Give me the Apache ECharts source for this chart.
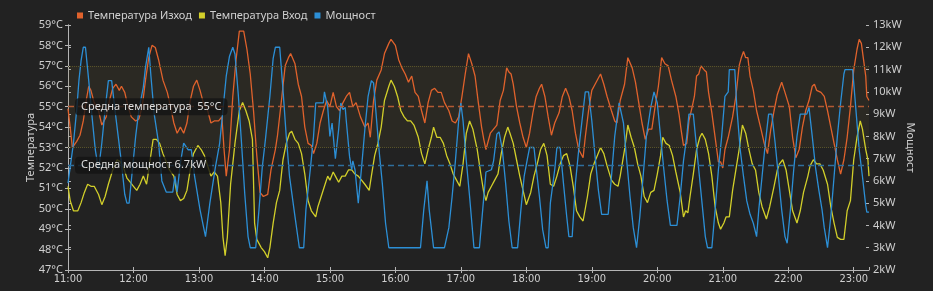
<!DOCTYPE html>
<html><head><meta charset="utf-8">
<script src="https://cdn.jsdelivr.net/npm/echarts@6/dist/echarts.min.js"></script>
<style>html,body{margin:0;padding:0;background:#222;}#c{width:933px;height:291px;}</style>
</head><body><div id="c"></div>
<script>
// x positions are minutes after 11:00
const tickLabels = ['11:00','12:00','13:00','14:00','15:00','16:00','17:00','18:00','19:00','20:00','21:00','22:00','23:00'];
const seriesNames = ['Температура Изход','Температура Вход','Мощност'];
const avgTemp = 55;
const avgPower = 6.7;
const bandLow = 53, bandHigh = 57;

const outlet = [[0,54.9],[2,54.0],[4,53.0],[8,53.3],[11,53.6],[14,54.3],[17,55.4],[19,56.0],[21,55.8],[24,55.2],[28,54.8],[31,54.1],[35,54.5],[38,55.3],[41,55.9],[44,56.1],[47,55.8],[49,56.0],[52,55.7],[55,55.0],[58,54.5],[62,54.3],[65,54.4],[68,55.0],[71,56.3],[74,57.4],[77,58.0],[80,57.9],[83,57.3],[87,56.3],[91,55.7],[94,55.0],[97,54.2],[100,53.7],[103,54.0],[106,53.7],[109,54.2],[112,55.3],[115,56.0],[118,56.3],[121,55.8],[124,55.2],[128,54.8],[131,54.2],[134,54.3],[138,54.3],[141,54.5],[143,52.9],[145,51.6],[148,52.9],[151,55.5],[154,57.3],[157,58.7],[161,58.7],[164,57.8],[167,56.6],[170,54.8],[173,52.6],[176,50.8],[179,50.6],[183,50.7],[186,51.9],[190,52.9],[192,53.6],[196,55.5],[199,57.0],[202,57.4],[204,57.6],[208,57.1],[211,56.1],[214,55.5],[217,54.0],[220,53.2],[223,53.1],[225,52.7],[228,53.2],[231,54.2],[234,54.8],[237,55.3],[240,55.0],[243,55.7],[246,55.0],[249,54.8],[252,55.2],[255,55.5],[258,55.7],[261,55.0],[264,55.2],[268,54.5],[272,54.0],[275,54.2],[277,53.5],[280,55.3],[283,56.3],[287,56.8],[290,57.6],[294,58.1],[296,58.3],[300,58.0],[303,57.3],[306,56.9],[309,56.6],[312,56.2],[315,56.5],[318,55.7],[321,55.5],[324,54.8],[327,54.2],[330,55.2],[333,55.8],[336,55.9],[339,55.7],[342,55.7],[345,55.2],[349,54.8],[352,54.3],[355,54.2],[358,54.5],[361,55.5],[364,56.6],[367,57.6],[370,57.1],[373,56.5],[376,55.2],[379,54.0],[381,53.4],[383,52.9],[387,53.7],[390,53.9],[393,54.1],[396,55.3],[399,55.8],[402,56.9],[404,56.7],[406,56.6],[408,56.1],[411,55.0],[414,54.2],[417,53.5],[420,53.0],[423,53.7],[426,54.7],[429,55.5],[432,55.9],[434,56.1],[437,55.5],[440,54.5],[443,53.6],[446,54.2],[450,54.7],[453,55.5],[456,55.9],[459,55.5],[462,54.8],[465,53.7],[468,52.9],[472,52.5],[474,53.5],[477,54.8],[480,55.8],[483,56.1],[488,56.6],[491,56.1],[494,55.5],[498,54.8],[501,54.3],[503,54.2],[506,55.3],[510,56.1],[513,57.4],[517,56.9],[520,56.2],[523,55.2],[526,54.2],[529,53.4],[532,53.9],[535,53.9],[538,55.0],[541,56.0],[544,57.4],[547,57.1],[550,57.0],[553,56.3],[557,55.5],[560,54.6],[562,53.8],[564,53.1],[567,53.2],[569,54.3],[572,55.0],[574,55.5],[576,56.5],[578,56.6],[580,57.0],[583,56.8],[585,56.7],[587,55.7],[590,54.7],[593,53.5],[596,52.3],[598,52.3],[600,52.0],[602,52.9],[605,53.5],[609,54.5],[612,55.5],[615,57.0],[617,57.4],[619,57.7],[621,57.4],[623,57.4],[625,56.5],[628,55.8],[631,54.8],[635,53.9],[638,53.2],[641,52.7],[644,53.9],[647,54.8],[650,55.6],[652,55.9],[654,56.2],[657,55.7],[661,55.0],[664,53.5],[667,52.5],[670,52.9],[673,54.0],[676,54.8],[679,55.3],[682,56.0],[684,56.1],[686,55.8],[690,55.7],[693,55.5],[696,54.8],[699,54.0],[702,53.2],[705,52.4],[708,51.7],[711,52.4],[714,53.5],[717,55.0],[720,56.8],[723,57.8],[725,58.3],[727,58.1],[729,57.3],[731,56.5],[732,55.5],[734,55.3]];

const inlet = [[0,51.1],[2,50.4],[5,49.9],[9,49.9],[12,50.3],[15,50.8],[18,51.2],[21,51.1],[24,51.1],[28,50.7],[31,50.2],[34,50.6],[37,51.2],[41,51.9],[45,52.4],[48,52.3],[51,52.0],[54,51.5],[57,51.3],[60,51.1],[63,50.9],[66,51.2],[69,51.6],[72,51.2],[75,52.3],[78,53.4],[81,53.4],[84,53.2],[87,52.7],[90,52.3],[93,51.9],[97,51.6],[100,50.7],[103,50.4],[106,50.5],[109,50.9],[112,51.9],[115,52.7],[119,53.1],[122,52.9],[125,52.6],[128,52.1],[131,51.6],[134,51.8],[137,51.6],[140,50.3],[142,48.6],[144,47.7],[146,48.6],[149,51.2],[153,53.2],[157,54.8],[160,55.2],[163,54.8],[166,54.3],[169,53.4],[171,49.3],[173,48.5],[177,48.1],[180,47.9],[183,47.6],[185,48.1],[188,49.3],[191,50.3],[194,50.9],[197,52.4],[200,53.2],[203,53.7],[205,53.8],[208,53.4],[211,53.2],[214,52.7],[217,51.7],[220,50.4],[223,49.9],[227,49.6],[229,50.1],[232,50.6],[235,51.1],[238,51.6],[240,51.4],[243,51.8],[245,51.6],[248,51.3],[251,51.6],[254,51.6],[257,51.9],[260,51.9],[263,51.7],[266,51.6],[269,51.4],[272,51.2],[276,50.9],[278,51.6],[281,52.6],[284,53.2],[287,54.0],[290,55.3],[294,56.0],[296,56.3],[299,56.0],[302,55.5],[305,54.8],[308,54.5],[311,54.3],[314,54.3],[317,54.1],[321,53.5],[324,52.7],[327,52.2],[330,52.9],[333,53.5],[335,54.0],[338,53.5],[341,53.5],[344,53.2],[347,52.6],[350,52.2],[353,51.7],[356,51.4],[359,51.1],[362,52.2],[365,53.7],[368,54.3],[371,53.9],[375,52.9],[378,51.8],[381,50.8],[383,50.4],[385,50.8],[388,51.1],[391,51.4],[394,51.7],[397,52.7],[400,53.5],[403,54.0],[405,53.7],[408,53.2],[411,52.4],[414,51.6],[417,50.9],[420,50.2],[424,50.8],[427,51.6],[430,52.2],[433,52.9],[436,53.2],[439,52.6],[442,51.2],[445,51.1],[448,51.6],[451,52.2],[454,52.6],[457,52.7],[460,52.1],[463,51.1],[466,49.9],[469,49.6],[472,49.4],[476,50.6],[479,51.7],[482,52.2],[485,52.6],[488,53.0],[491,52.7],[494,52.1],[498,51.4],[501,51.2],[504,51.1],[506,51.6],[510,52.9],[513,54.1],[516,53.5],[519,53.0],[522,52.2],[525,51.6],[528,50.6],[531,50.3],[534,50.8],[537,50.9],[540,51.7],[543,52.6],[545,53.5],[548,53.2],[551,53.1],[554,52.6],[557,51.8],[561,50.8],[564,49.6],[566,49.9],[568,49.8],[570,50.6],[573,51.7],[576,52.9],[579,53.5],[581,53.7],[584,53.4],[587,52.7],[590,51.6],[593,50.1],[596,49.3],[598,49.0],[601,49.3],[603,49.6],[606,49.6],[609,50.9],[612,51.9],[615,52.9],[618,54.1],[621,53.7],[624,52.9],[627,52.2],[630,51.9],[633,50.8],[636,50.1],[640,49.5],[643,50.1],[647,51.1],[650,51.9],[652,52.2],[655,52.4],[658,51.9],[661,50.9],[664,49.9],[668,49.3],[671,49.9],[674,50.8],[678,51.6],[680,52.1],[683,52.4],[686,52.2],[689,52.2],[692,51.9],[696,51.2],[699,50.1],[702,49.3],[705,48.6],[708,48.5],[711,48.5],[714,49.9],[717,50.4],[720,52.4],[723,53.5],[726,54.3],[728,53.9],[731,52.9],[733,52.4],[734,51.6]];

const power = [[0,5.9],[5,7.7],[8,9.2],[10,10.5],[12,11.4],[14,12.0],[16,12.0],[19,10.5],[22,8.9],[25,7.4],[28,6.5],[31,7.7],[34,9.2],[37,10.5],[40,10.5],[43,9.2],[46,8.0],[49,6.8],[52,5.4],[54,5.0],[56,5.0],[59,6.5],[62,8.0],[65,9.2],[69,10.2],[71,11.1],[74,12.0],[76,10.7],[79,9.0],[83,7.7],[86,6.0],[90,5.5],[96,5.5],[98,6.2],[100,5.5],[103,6.8],[106,7.7],[110,7.4],[113,7.4],[116,6.2],[121,4.7],[126,3.5],[130,5.0],[135,6.6],[139,7.7],[142,9.2],[145,10.7],[148,11.6],[151,12.0],[153,11.7],[156,9.9],[159,7.7],[162,5.4],[165,3.5],[167,3.0],[172,3.0],[175,4.7],[178,6.6],[181,7.9],[185,9.8],[188,11.5],[190,12.0],[194,12.0],[197,10.1],[200,8.0],[203,6.2],[208,4.4],[212,3.0],[216,3.0],[218,4.7],[222,6.5],[225,8.0],[227,9.5],[234,9.5],[235,10.0],[238,9.3],[240,8.0],[242,8.6],[245,7.0],[248,8.3],[250,9.5],[252,9.2],[254,9.3],[255,8.7],[258,7.1],[260,6.5],[261,6.9],[263,6.5],[266,5.0],[269,6.6],[272,8.3],[275,9.8],[278,10.5],[280,10.4],[282,9.2],[285,7.4],[288,5.9],[291,4.1],[294,3.0],[323,3.0],[326,4.7],[329,6.0],[331,4.7],[335,3.0],[345,3.0],[349,3.9],[352,5.3],[355,6.9],[358,8.7],[360,9.5],[362,8.7],[365,6.9],[368,5.3],[372,3.0],[377,3.0],[380,4.7],[383,6.4],[388,6.5],[390,6.9],[393,8.1],[395,8.2],[398,7.4],[401,5.9],[404,4.2],[407,3.0],[412,3.0],[415,4.7],[418,6.2],[421,7.0],[423,7.5],[427,7.5],[429,6.6],[432,5.3],[435,3.8],[438,3.0],[440,3.0],[442,5.0],[446,6.5],[448,7.5],[451,7.5],[454,5.9],[457,4.4],[459,3.5],[462,3.5],[465,5.9],[468,7.4],[471,8.7],[474,10.0],[477,10.0],[480,8.7],[483,7.1],[486,5.6],[489,4.5],[495,4.5],[498,6.2],[501,8.0],[505,9.5],[509,8.6],[512,6.9],[515,5.3],[518,3.9],[521,3.0],[524,4.4],[527,6.2],[530,8.0],[534,9.3],[537,10.0],[540,9.5],[543,8.0],[546,6.5],[549,5.1],[552,4.0],[558,4.0],[561,5.3],[564,6.9],[567,8.0],[569,9.0],[573,9.0],[575,8.0],[578,6.5],[581,5.0],[584,3.5],[586,3.0],[590,3.0],[593,4.7],[596,6.5],[599,8.0],[602,9.8],[605,10.0],[606,11.0],[611,11.0],[613,9.2],[616,7.4],[619,6.2],[622,5.1],[625,4.5],[628,4.1],[631,3.5],[633,4.7],[636,6.2],[639,7.7],[642,9.0],[645,9.0],[648,7.7],[651,6.2],[654,4.7],[657,3.5],[659,3.2],[662,4.7],[665,6.5],[668,8.0],[671,9.0],[677,9.0],[679,9.3],[682,8.0],[685,6.6],[688,5.6],[691,4.7],[693,3.9],[696,3.0],[699,4.4],[702,6.2],[705,8.0],[708,9.5],[711,10.8],[712,11.0],[719,11.0],[722,9.2],[725,7.4],[728,6.2],[731,4.9],[732,4.6],[734,4.6]];

const C_OUT = '#e0622c', C_IN = '#d2cf2a', C_POW = '#2c8fd6';
const txt = '#cfcfcf', axisCol = '#b5b5b5';
const font = '"Noto Sans", sans-serif';

const labelBox = {
  show: true, position: 'insideStart', distance: 7,
  color: '#dddddd', fontSize: 11, fontFamily: font,
  backgroundColor: 'rgba(20,20,20,0.8)', borderRadius: 4, padding: [3, 6]
};

// inner half of tick marks (ticks cross the axis line in the reference)
const innerTicks = {
  axisLine: {show: false}, axisLabel: {show: false}, splitLine: {show: false},
  axisTick: {show: true, inside: true, length: 3, lineStyle: {color: axisCol}}
};

const xRange = {type: 'value', min: 0, max: 734, interval: 60};
const tRange = {type: 'value', min: 47, max: 59, interval: 1};
const pRange = {type: 'value', min: 2, max: 13, interval: 1};

const chart = echarts.init(document.getElementById('c'), null, {renderer: 'canvas'});
chart.setOption({
  animation: false,
  backgroundColor: '#222222',
  textStyle: {fontFamily: font},
  legend: {
    left: 72, top: 5, icon: 'rect', itemWidth: 6, itemHeight: 6, itemGap: 7,
    textStyle: {color: txt, fontSize: 11, fontFamily: font},
    data: seriesNames
  },
  grid: {left: 68, right: 64, top: 25, bottom: 21, containLabel: false},
  xAxis: [Object.assign({}, xRange, {
    position: 'bottom',
    axisLine: {lineStyle: {color: axisCol, width: 1}},
    axisTick: {show: true, length: 3, lineStyle: {color: axisCol}},
    splitLine: {show: false},
    axisLabel: {
      color: txt, fontSize: 11, margin: 4,
      fontFamily: '"Liberation Sans Narrow", "DejaVu Sans Condensed", sans-serif',
      formatter: v => tickLabels[Math.round(v / 60)] || ''
    }
  }), Object.assign({}, xRange, {position: 'bottom'}, innerTicks)],
  yAxis: [Object.assign({}, tRange, {
    position: 'left',
    name: 'Температура', nameLocation: 'middle', nameGap: 32, nameMoveOverlap: false,
    nameTextStyle: {color: txt, fontSize: 11, fontFamily: font},
    axisLine: {show: true, lineStyle: {color: axisCol}},
    axisTick: {show: true, length: 3, lineStyle: {color: axisCol}},
    splitLine: {show: false},
    axisLabel: {color: txt, fontSize: 11, margin: 5, formatter: '{value}°C'}
  }), Object.assign({}, pRange, {
    position: 'right',
    name: 'Мощност', nameLocation: 'middle', nameGap: 36, nameRotate: -90, nameMoveOverlap: false,
    nameTextStyle: {color: txt, fontSize: 11, fontFamily: font},
    axisLine: {show: true, lineStyle: {color: axisCol}},
    axisTick: {show: true, length: 3, lineStyle: {color: axisCol}},
    splitLine: {show: false},
    axisLabel: {color: txt, fontSize: 11, margin: 4, formatter: '{value}kW'}
  }), Object.assign({}, tRange, {position: 'left'}, innerTicks),
      Object.assign({}, pRange, {position: 'right'}, innerTicks)],
  series: [{
    name: seriesNames[0], type: 'line', xAxisIndex: 0, yAxisIndex: 0, data: outlet,
    showSymbol: false, symbol: 'none', color: C_OUT,
    lineStyle: {width: 1.3, color: C_OUT},
    markArea: {
      silent: true,
      itemStyle: {color: 'rgba(120,100,45,0.11)'},
      data: [[{yAxis: bandLow}, {yAxis: bandHigh}]]
    },
    markLine: {
      silent: true, symbol: 'none',
      data: [
        {yAxis: bandHigh, lineStyle: {color: '#58532a', type: 'dotted', width: 1}, label: {show: false}},
        {yAxis: bandLow, lineStyle: {color: '#58532a', type: 'dotted', width: 1}, label: {show: false}},
        {yAxis: avgTemp, lineStyle: {color: '#b35a33', type: [6, 4], width: 1.3},
         label: Object.assign({}, labelBox, {formatter: 'Средна температура  ' + avgTemp + '°C'})}
      ]
    }
  }, {
    name: seriesNames[1], type: 'line', xAxisIndex: 0, yAxisIndex: 0, data: inlet,
    showSymbol: false, symbol: 'none', color: C_IN,
    lineStyle: {width: 1.3, color: C_IN}
  }, {
    name: seriesNames[2], type: 'line', xAxisIndex: 0, yAxisIndex: 1, data: power,
    showSymbol: false, symbol: 'none', color: C_POW,
    lineStyle: {width: 1.3, color: C_POW},
    markLine: {
      silent: true, symbol: 'none',
      data: [
        {yAxis: avgPower, lineStyle: {color: '#2f6e9c', type: [6, 4], width: 1.3},
         label: Object.assign({}, labelBox, {formatter: 'Средна мощност ' + avgPower + 'kW'})}
      ]
    }
  }]
});
</script>
</body></html>
